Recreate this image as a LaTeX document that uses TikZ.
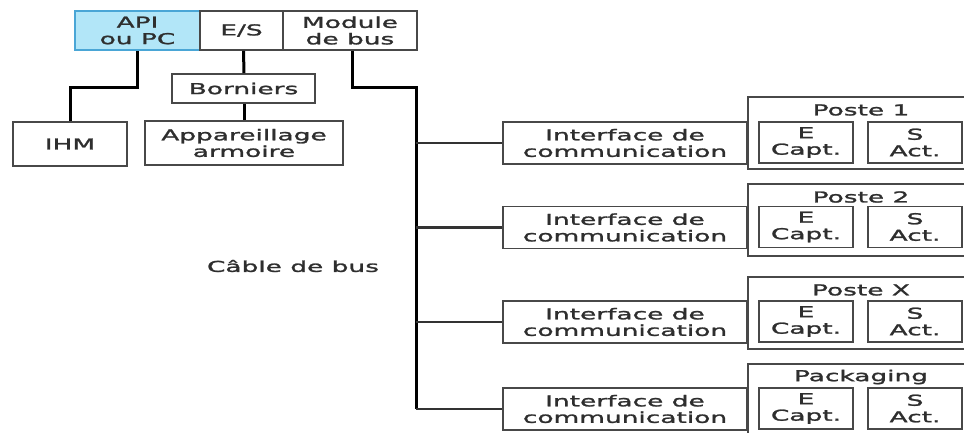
\documentclass[tikz,border=0pt]{standalone}
\usepackage{fontspec}
\setmainfont{DejaVu Sans}[FakeStretch=1.76, FakeBold=1.6]
\usetikzlibrary{calc}
\definecolor{boxline}{HTML}{484848}
\definecolor{apifill}{HTML}{B2E6F8}
\definecolor{apiline}{HTML}{4AA6D6}
\definecolor{textgray}{HTML}{2E2E2E}
\begin{document}
\begin{tikzpicture}[x=1pt,y=-1pt,
  box/.style={draw=boxline, line width=1.6pt, fill=white, inner sep=0pt,
    align=center, text=textgray, font=\fontsize{15}{16.5}\selectfont},
  trunk/.style={line width=3pt, black},
  branch/.style={line width=2.2pt, black!80},
  label/.style={inner sep=0pt, text=textgray, font=\fontsize{15}{16.5}\selectfont}]
\useasboundingbox (0,0) rectangle (964,432);
\clip (0,0) rectangle (964,432);

% controller rack
\node[box, fill=apifill, draw=apiline, minimum width=125pt, minimum height=39pt] (api) at (137.5,30.5) {API\\ou PC};
\node[box, minimum width=83pt, minimum height=39pt] (es) at (241.5,30.5) {E/S};
\node[box, minimum width=134pt, minimum height=39pt] (module) at (350,30.5) {Module\\de bus};

% cabinet side
\node[box, minimum width=114pt, minimum height=44pt] (ihm) at (70,144) {IHM};
\node[box, minimum width=143pt, minimum height=29pt] (borniers) at (243.5,88.5) {Borniers};
\node[box, minimum width=198pt, minimum height=44pt] (appar) at (244,143) {Appareillage\\armoire};

\node[label] (cable) at (293,266) {Câble de bus};

% field stations
\foreach \i/\ptop/\ibox/\ename in {1/96/143/Poste 1, 2/183/227.5/Poste 2, 3/276/322/Poste X, 4/363/409/Packaging}{
  \node[box, anchor=north west, minimum width=230pt, minimum height=72pt] (poste\i) at (747,\ptop) {};
  \node[label] (pname\i) at (861,\ptop+14) {\ename};
  \node[box, minimum width=94pt, minimum height=41pt] (e\i) at (806,\ibox-0.5) {E\\Capt.};
  \node[box, minimum width=94pt, minimum height=41pt] (s\i) at (915,\ibox-0.5) {S\\Act.};
  \node[box, minimum width=244pt, minimum height=42pt] (if\i) at (625,\ibox) {Interface de\\communication};
}

% links
\draw[trunk] (api.south) -- ++(0,37) -| (ihm.north);
\draw[trunk] (es.south) ++(2,0) -- ($(borniers.north)+(0.5,0)$);
\draw[trunk] ($(borniers.south)+(0.5,0)$) -- ($(appar.north)$);
\coordinate (bustop) at (416,87);
\coordinate (busend) at (416,409);
\draw[trunk] ($(module.south)+(2,0)$) |- (bustop) -- (busend);
\foreach \i in {1,2,3,4}{
  \draw[branch] (if\i.west -| bustop) -- (if\i.west);
}
\end{tikzpicture}
\end{document}
